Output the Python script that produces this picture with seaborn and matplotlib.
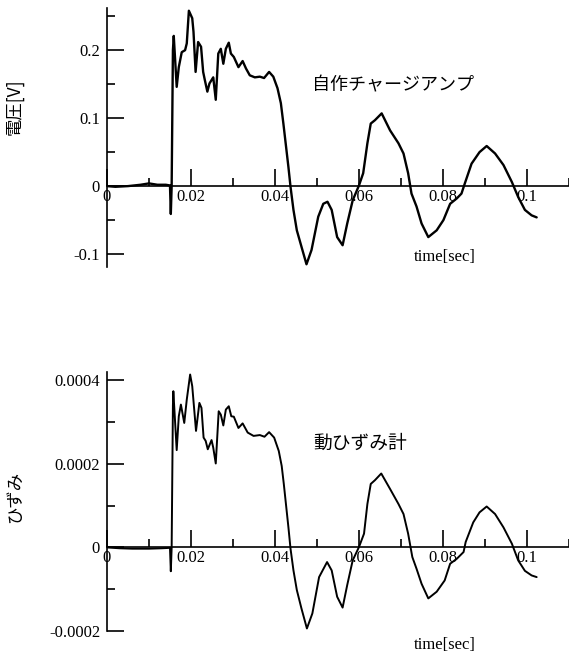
import seaborn as sns
import matplotlib.pyplot as plt
import pandas as pd
from matplotlib.ticker import MultipleLocator, FuncFormatter

sns.set_theme(style="white")
plt.rcParams["font.family"] = ["Noto Sans CJK JP", "DejaVu Sans"]

# charge amplifier output [V]
amp_t = [0.0, 0.002, 0.005, 0.008, 0.010, 0.012, 0.014, 0.0150, 0.0152, 0.0154,
         0.0157, 0.0159, 0.0166, 0.0171, 0.0178, 0.0186, 0.0190, 0.0195, 0.0203,
         0.0206, 0.0211, 0.0217, 0.0224, 0.0229, 0.0233, 0.0239, 0.0244, 0.0249,
         0.0253, 0.0259, 0.0265, 0.0271, 0.0277, 0.0283, 0.0290, 0.0295, 0.0302,
         0.0313, 0.0323, 0.0331, 0.0340, 0.0352, 0.0364, 0.0374, 0.0386, 0.0396,
         0.0406, 0.0414, 0.0420, 0.0432, 0.0437, 0.0444, 0.0452, 0.0463, 0.0475,
         0.0487, 0.0503, 0.0515, 0.0525, 0.0535, 0.0548, 0.0561, 0.0572, 0.0585,
         0.0600, 0.0610, 0.0620, 0.0628, 0.0638, 0.0654, 0.0674, 0.0694, 0.0706,
         0.0717, 0.0725, 0.0737, 0.0749, 0.0765, 0.0785, 0.0801, 0.0817, 0.0833,
         0.0844, 0.0852, 0.0868, 0.0887, 0.0904, 0.0924, 0.0944, 0.0964, 0.0979,
         0.0995, 0.1011, 0.1023]
amp_v = [0.0, -0.001, 0.0, 0.002, 0.004, 0.002, 0.002, 0.001, -0.041, 0.0,
         0.200, 0.221, 0.146, 0.175, 0.197, 0.200, 0.210, 0.258, 0.247,
         0.227, 0.168, 0.212, 0.205, 0.168, 0.156, 0.139, 0.151, 0.156,
         0.160, 0.127, 0.195, 0.202, 0.180, 0.202, 0.211, 0.195, 0.190,
         0.175, 0.184, 0.173, 0.163, 0.160, 0.161, 0.159, 0.168, 0.161,
         0.144, 0.122, 0.092, 0.028, -0.001, -0.035, -0.065, -0.089, -0.115,
         -0.094, -0.045, -0.026, -0.023, -0.035, -0.075, -0.087, -0.055, -0.021,
         0.001, 0.019, 0.063, 0.092, 0.097, 0.107, 0.082, 0.063, 0.048,
         0.019, -0.011, -0.030, -0.055, -0.075, -0.065, -0.050, -0.026, -0.018,
         -0.011, 0.004, 0.033, 0.050, 0.059, 0.048, 0.031, 0.006, -0.016,
         -0.035, -0.043, -0.046]

# dynamic strain meter
strain_t = [0.0, 0.003, 0.006, 0.010, 0.013, 0.0150, 0.0152, 0.0154, 0.0157,
            0.0158, 0.0166, 0.0171, 0.0176, 0.0184, 0.0190, 0.0198, 0.0203,
            0.0212, 0.0220, 0.0225, 0.0230, 0.0235, 0.0240, 0.0249, 0.0253,
            0.0259, 0.0266, 0.0271, 0.0277, 0.0283, 0.0290, 0.0296, 0.0302,
            0.0313, 0.0323, 0.0335, 0.0349, 0.0364, 0.0375, 0.0386, 0.0398,
            0.0409, 0.0416, 0.0421, 0.0432, 0.0437, 0.0444, 0.0452, 0.0463,
            0.0476, 0.0489, 0.0505, 0.0524, 0.0535, 0.0548, 0.0561, 0.0572,
            0.0585, 0.0600, 0.0612, 0.0620, 0.0628, 0.0638, 0.0653, 0.0674,
            0.0694, 0.0706, 0.0717, 0.0727, 0.0737, 0.0749, 0.0765, 0.0785,
            0.0804, 0.0817, 0.0833, 0.0849, 0.0854, 0.0872, 0.0887, 0.0904,
            0.0924, 0.0944, 0.0964, 0.0979, 0.0995, 0.1011, 0.1023]
strain_v = [0.0, -0.000002, -0.000003, -0.000003, -0.000002, -0.000001,
            -0.000057, 0.0, 0.00034, 0.000374, 0.000233, 0.000314, 0.000342,
            0.000298, 0.000354, 0.000414, 0.000386, 0.000279, 0.000346,
            0.000334, 0.000263, 0.000255, 0.000235, 0.000257, 0.000239,
            0.000201, 0.000326, 0.000318, 0.000292, 0.000330, 0.000338,
            0.000314, 0.000313, 0.000286, 0.000297, 0.000275, 0.000267,
            0.000269, 0.000265, 0.000276, 0.000263, 0.000231, 0.000195,
            0.000152, 0.000048, -0.000003, -0.000055, -0.000102, -0.000146,
            -0.000194, -0.000158, -0.000071, -0.000035, -0.000055, -0.000118,
            -0.000144, -0.000090, -0.000031, 0.000001, 0.000033, 0.000104,
            0.000152, 0.000161, 0.000177, 0.000140, 0.000104, 0.000080,
            0.000033, -0.000023, -0.000051, -0.000087, -0.000122, -0.000106,
            -0.000079, -0.000039, -0.000027, -0.000011, 0.000013, 0.000060,
            0.000084, 0.000098, 0.000080, 0.000048, 0.000009, -0.000031,
            -0.000056, -0.000067, -0.000071]

SERIF = "Liberation Serif"


def style_axis(ax, ylim, ymajor, yminor, ylabel, label_y):
    ax.set_xlim(0, 0.11)
    ax.set_ylim(*ylim)
    for side in ["top", "right"]:
        ax.spines[side].set_visible(False)
    ax.spines["bottom"].set_position(("data", 0))
    for side in ["left", "bottom"]:
        ax.spines[side].set_linewidth(1.2)
        ax.spines[side].set_color("black")
    ax.xaxis.set_major_locator(MultipleLocator(0.02))
    ax.xaxis.set_minor_locator(MultipleLocator(0.01))
    ax.yaxis.set_major_locator(MultipleLocator(ymajor))
    ax.yaxis.set_minor_locator(MultipleLocator(yminor))
    fmt = FuncFormatter(lambda v, pos: f"{round(v, 6):g}")
    ax.xaxis.set_major_formatter(fmt)
    ax.yaxis.set_major_formatter(fmt)
    ax.tick_params(which="both", direction="in", color="black", width=1.2,
                   left=True, bottom=True)
    ax.tick_params(axis="x", which="major", length=12, pad=2)
    ax.tick_params(axis="x", which="minor", length=6)
    ax.tick_params(axis="y", which="major", length=12, pad=5)
    ax.tick_params(axis="y", which="minor", length=6)
    for lab in ax.get_xticklabels() + ax.get_yticklabels():
        lab.set_fontfamily(SERIF)
        lab.set_fontsize(12)
        lab.set_color("black")
    ax.set_xlabel("")
    ax.set_ylabel(ylabel, fontsize=12.5, color="black", va="center")
    ax.yaxis.set_label_coords(-0.199, label_y)
    ax.grid(False)


fig = plt.figure(figsize=(5.69, 6.57), dpi=100)
ax1 = fig.add_axes([0.188, 0.5936, 0.812, 0.3942])
ax2 = fig.add_axes([0.188, 0.0396, 0.812, 0.3942])

amp = pd.DataFrame({"t": amp_t, "v": amp_v})
strain = pd.DataFrame({"t": strain_t, "v": strain_v})

sns.lineplot(data=amp, x="t", y="v", ax=ax1, color="black", linewidth=1.7,
             sort=False, estimator=None)
sns.lineplot(data=strain, x="t", y="v", ax=ax2, color="black", linewidth=1.4,
             sort=False, estimator=None)

style_axis(ax1, (-0.119, 0.262), 0.1, 0.05, "電圧[V]", 0.618)
style_axis(ax2, (-0.0002, 0.00042), 0.0002, 0.0001, "ひずみ", 0.517)

ax1.text(0.0681, 0.1485, "自作チャージアンプ", fontsize=13, ha="center",
         va="center", color="black")
ax1.text(0.0805, -0.104, "time[sec]", fontsize=12, fontfamily=SERIF,
         ha="center", va="center", color="black", clip_on=False)
ax2.text(0.0602, 0.000248, "動ひずみ計", fontsize=13.5, ha="center",
         va="center", color="black")
ax2.text(0.0805, -0.000233, "time[sec]", fontsize=12, fontfamily=SERIF,
         ha="center", va="center", color="black", clip_on=False)

fig.savefig("out.png", dpi=100, facecolor="white")
plt.close(fig)
